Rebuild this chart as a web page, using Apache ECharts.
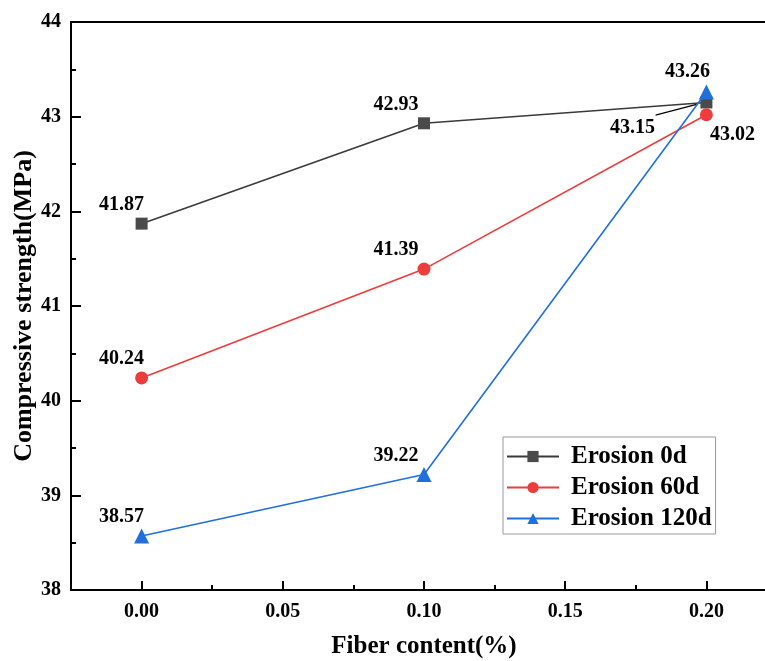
<!DOCTYPE html>
<html>
<head>
<meta charset="utf-8">
<script src="https://cdn.jsdelivr.net/npm/echarts@6/dist/echarts.min.js"></script>
<style>html,body{margin:0;padding:0;background:#fff}#c{width:765px;height:661px}</style>
</head>
<body>
<div id="c"></div>
<script>
const fiberContent = [0.00, 0.10, 0.20];
const erosion0d = [41.87, 42.93, 43.15];
const erosion60d = [40.24, 41.39, 43.02];
const erosion120d = [38.57, 39.22, 43.26];
const seriesNames = ['Erosion 0d', 'Erosion 60d', 'Erosion 120d'];
const xMajorTicks = [0.00, 0.05, 0.10, 0.15, 0.20];
const xMinorTicks = [0.025, 0.075, 0.125, 0.175];

const colors = ['#4a4a4a', '#ee3b3b', '#1f6fdc'];
const lineColors = ['#3a3a3a', '#ee3b3b', '#1f6fdc'];
const symbols = ['rect', 'circle', 'triangle'];
const symbolSizes = [12, 13, 15];
// label offsets (style), per series per point
const labelOffsets = [
  [[-20, -19], [-28, -18], [-74, 25]],
  [[-20, -19], [-28, -19], [26, 20]],
  [[-20, -19], [-28, -19], [-19, -20]]
];
const font = '"Liberation Serif", "Times New Roman", serif';

function build(vals, si) {
  return vals.map((v, i) => ({
    value: [fiberContent[i], v],
    label: { offset: labelOffsets[si][i] }
  }));
}

const allVals = [erosion0d, erosion60d, erosion120d];
const series = allVals.map((vals, si) => ({
  name: seriesNames[si],
  type: 'line',
  xAxisIndex: 0,
  data: build(vals, si),
  symbol: symbols[si],
  symbolSize: symbolSizes[si],
  itemStyle: { color: colors[si] },
  lineStyle: { color: lineColors[si], width: 1.6 },
  label: {
    show: true,
    position: 'inside',
    formatter: p => p.value[1].toFixed(2),
    color: '#000',
    fontFamily: font,
    fontWeight: 'bold',
    fontSize: 20
  },
  z: 3 + si
}));

// leader line for the 43.15 label
series.push({
  type: 'line',
  xAxisIndex: 0,
  silent: true,
  symbol: 'none',
  data: [],
  markLine: {
    silent: true,
    symbol: 'none',
    label: { show: false },
    lineStyle: { color: '#000', width: 1.2, type: 'solid' },
    data: [[{ coord: [fiberContent[2] - 0.0035, erosion0d[2] - 0.02] }, { coord: [fiberContent[2] - 0.018, erosion0d[2] - 0.134] }]]
  }
});

const chart = echarts.init(document.getElementById('c'));
chart.setOption({
  backgroundColor: '#fff',
  animation: false,
  grid: { left: 71, width: 706, top: 22, bottom: 71, show: true, borderColor: '#000', borderWidth: 2, containLabel: false, outerBoundsMode: 'none' },
  legend: {
    data: seriesNames,
    orient: 'vertical',
    left: 503,
    top: 437,
    padding: [7, 4, 3, 3],
    borderColor: '#999',
    borderWidth: 1,
    itemWidth: 52,
    itemHeight: 14,
    itemGap: 6,
    textStyle: { fontFamily: font, fontWeight: 'bold', fontSize: 25, color: '#000', lineHeight: 24, padding: [0, 0, 0, 7] }
  },
  xAxis: [{
    type: 'value',
    min: -0.025,
    max: 0.225,
    interval: 0.025,
    name: 'Fiber content(%)',
    nameLocation: 'middle',
    nameGap: 44,
    nameMoveOverlap: false,
    nameTextStyle: { fontFamily: font, fontWeight: 'bold', fontSize: 25, color: '#000' },
    axisLine: { show: true, onZero: false, lineStyle: { color: '#000', width: 2 } },
    axisTick: { show: true, inside: true, length: 9, lineStyle: { color: '#000', width: 2 }, customValues: xMajorTicks },
    axisLabel: { customValues: xMajorTicks, formatter: v => v.toFixed(2), margin: 12, fontFamily: font, fontWeight: 'bold', fontSize: 20, color: '#000' },
    splitLine: { show: false }
  }, {
    type: 'value',
    min: -0.025,
    max: 0.225,
    position: 'bottom',
    axisLine: { show: false, onZero: false },
    axisTick: { show: true, inside: true, length: 5, lineStyle: { color: '#000', width: 2 }, customValues: xMinorTicks },
    axisLabel: { show: false },
    splitLine: { show: false }
  }],
  yAxis: {
    type: 'value',
    min: 38,
    max: 44,
    interval: 1,
    name: 'Compressive strength(MPa)',
    nameLocation: 'middle',
    nameGap: 34,
    nameMoveOverlap: false,
    nameTextStyle: { fontFamily: font, fontWeight: 'bold', fontSize: 26, color: '#000' },
    axisLine: { show: true, onZero: false, lineStyle: { color: '#000', width: 2 } },
    axisTick: { show: true, inside: true, length: 10, lineStyle: { color: '#000', width: 2 } },
    minorTick: { show: true, splitNumber: 2, length: 5, lineStyle: { color: '#000', width: 2 } },
    axisLabel: { margin: 10, fontFamily: font, fontWeight: 'bold', fontSize: 20, color: '#000' },
    splitLine: { show: false }
  },
  series: series
});
</script>
</body>
</html>
